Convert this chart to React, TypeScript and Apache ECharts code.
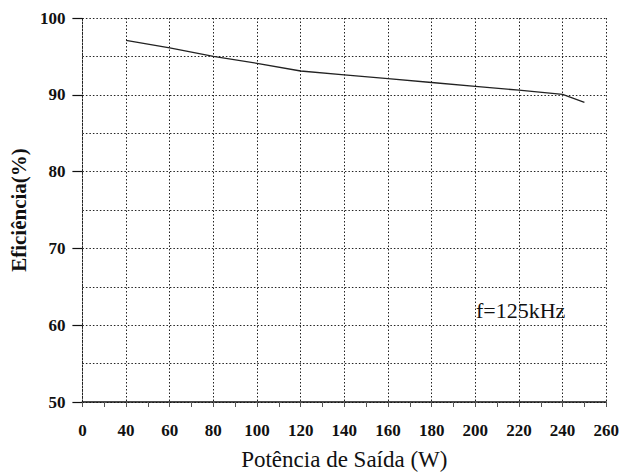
import React, { useEffect, useRef } from "react";
import * as echarts from "echarts";

const power = [40, 60, 80, 100, 120, 140, 160, 180, 200, 220, 240, 250];
const efficiency = [97.1, 96.1, 95.0, 94.1, 93.1, 92.6, 92.1, 91.6, 91.1, 90.6, 90.05, 89.0];
const xTicks = { min: 20, max: 260, step: 20 };
const yTicks = { min: 50, max: 100, step: 10 };
const annotation = "f=125kHz";
const xTitle = "Potência de Saída (W)";
const yTitle = "Eficiência(%)";

const SERIF = "Liberation Serif, DejaVu Serif, serif";

export default function App() {
  const ref = useRef<HTMLDivElement>(null);
  useEffect(() => {
    if (!ref.current) return;
    const chart = echarts.init(ref.current, null, { renderer: "svg" });
    const dotted = { color: "#222", width: 1, type: [1.5, 2] as any };
    chart.setOption({
      animation: false,
      backgroundColor: "#fff",
      grid: { left: 80, right: 12, top: 18, bottom: 71, containLabel: false },
      xAxis: {
        type: "value",
        min: xTicks.min,
        max: xTicks.max,
        interval: xTicks.step,
        name: xTitle,
        nameLocation: "middle",
        nameGap: 46,
        nameTextStyle: { fontFamily: SERIF, fontSize: 23, color: "#111" },
        axisLine: { show: true, lineStyle: { color: "#111", width: 1.5 } },
        axisTick: { show: true, inside: false, length: 5, lineStyle: { color: "#555", width: 1 } },
        minorTick: { show: true, splitNumber: 2, length: 5, lineStyle: { color: "#555", width: 1 } },
        axisLabel: {
          fontFamily: SERIF,
          fontSize: 17,
          fontWeight: "bold",
          color: "#111",
          margin: 20,
          formatter: (v: number) => (v === xTicks.min ? "0" : String(v)),
        },
        splitLine: { show: true, lineStyle: dotted },
      },
      yAxis: {
        type: "value",
        min: yTicks.min,
        max: yTicks.max,
        interval: yTicks.step,
        name: yTitle,
        nameLocation: "middle",
        nameGap: 50,
        nameRotate: 90,
        nameTextStyle: { fontFamily: SERIF, fontSize: 21, fontWeight: "bold", color: "#111" },
        axisLine: { show: true, lineStyle: dotted },
        axisTick: { show: true, inside: false, length: 10, lineStyle: { color: "#111", width: 1.2 } },
        minorTick: { show: false, splitNumber: 2 },
        minorSplitLine: { show: true, lineStyle: dotted },
        axisLabel: {
          fontFamily: SERIF,
          fontSize: 17,
          fontWeight: "bold",
          color: "#111",
          margin: 17,
        },
        splitLine: { show: true, lineStyle: dotted },
      },
      series: [
        {
          type: "line",
          data: power.map((p, i) => [p, efficiency[i]]),
          showSymbol: false,
          smooth: false,
          lineStyle: { color: "#222", width: 1.3 },
        },
      ],
      graphic: [
        {
          type: "text",
          left: 476,
          top: 299,
          style: { text: annotation, font: `22px ${SERIF}`, fill: "#111" },
        },
      ],
    });
    return () => chart.dispose();
  }, []);
  return <div ref={ref} style={{ width: 622, height: 476, position: "absolute", left: 0, top: 0 }} />;
}
